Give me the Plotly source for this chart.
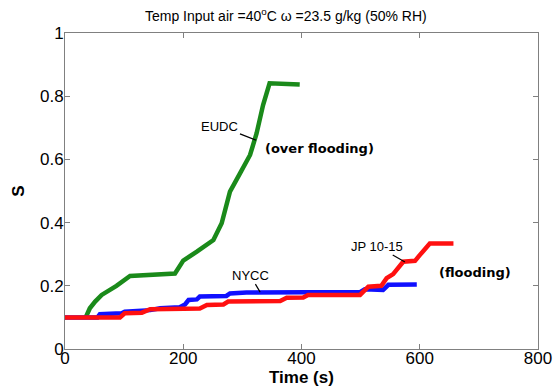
import plotly.graph_objects as go

eudc_t = [35, 42, 51, 62, 87, 110, 186, 200, 223, 251, 265, 279, 296, 313, 324, 335, 346, 397]
eudc_s = [0.10, 0.129, 0.15, 0.171, 0.20, 0.231, 0.239, 0.28, 0.308, 0.345, 0.398, 0.498, 0.556, 0.614, 0.682, 0.772, 0.841, 0.837]

nycc_t = [0, 55, 59, 96, 101, 144, 161, 194, 203, 209, 223, 228, 273, 279, 307, 397, 499, 507, 538, 547, 595]
nycc_s = [0.10, 0.10, 0.11, 0.113, 0.118, 0.123, 0.129, 0.132, 0.141, 0.155, 0.157, 0.166, 0.168, 0.176, 0.179, 0.179, 0.18, 0.189, 0.187, 0.203, 0.204]

jp_t = [0, 93, 101, 130, 144, 228, 240, 268, 276, 364, 375, 403, 411, 499, 513, 535, 544, 555, 572, 592, 600, 617, 657]
jp_s = [0.10, 0.10, 0.113, 0.115, 0.126, 0.128, 0.139, 0.141, 0.15, 0.152, 0.162, 0.163, 0.171, 0.171, 0.197, 0.20, 0.224, 0.237, 0.276, 0.279, 0.297, 0.334, 0.334]

x_ticks = [0, 200, 400, 600, 800]
y_ticks = [0, 0.2, 0.4, 0.6, 0.8, 1]
y_tick_text = ["0", "0.2", "0.4", "0.6", "0.8", "1"]

ARIAL = "Arial, Liberation Sans, sans-serif"
BOLD = "DejaVu Sans, Verdana, sans-serif"

fig = go.Figure()
fig.add_trace(go.Scatter(x=eudc_t, y=eudc_s, mode="lines", line=dict(color="#1a8a1a", width=4.5), showlegend=False))
fig.add_trace(go.Scatter(x=nycc_t, y=nycc_s, mode="lines", line=dict(color="#1010ff", width=4.5), showlegend=False))
fig.add_trace(go.Scatter(x=jp_t, y=jp_s, mode="lines", line=dict(color="#ff1010", width=4.5), showlegend=False))

ann_font = dict(family=ARIAL, size=13, color="black")
fig.add_annotation(x=323, y=0.661, text="EUDC", showarrow=True, arrowhead=0, arrowwidth=1.2,
                   arrowcolor="black", ax=-36, ay=-14, font=ann_font)
fig.add_annotation(x=330, y=0.18, text="NYCC", showarrow=True, arrowhead=0, arrowwidth=1.2,
                   arrowcolor="black", ax=-10, ay=-17, font=ann_font)
fig.add_annotation(x=575, y=0.275, text="JP 10-15", showarrow=True, arrowhead=0, arrowwidth=1.2,
                   arrowcolor="black", ax=-28, ay=-16, font=ann_font)
fig.add_annotation(x=431, y=0.633, text="<b>(over flooding)</b>", showarrow=False,
                   font=dict(family=BOLD, size=13, color="black"))
fig.add_annotation(x=694, y=0.241, text="<b>(flooding)</b>", showarrow=False,
                   font=dict(family=BOLD, size=13, color="black"))

# axis titles placed as annotations
fig.add_annotation(xref="paper", yref="paper", x=0.5, y=-0.09, yanchor="middle", xanchor="center",
                   text="<b>Time (s)</b>", showarrow=False, font=dict(family=ARIAL, size=17, color="black"))
fig.add_annotation(xref="paper", yref="paper", x=-0.1, y=0.5, yanchor="middle", xanchor="center",
                   text="<b>S</b>", showarrow=False, textangle=-90, font=dict(family=ARIAL, size=17, color="black"))

fig.update_layout(
    width=554, height=388,
    margin=dict(l=65, r=16, t=33, b=39),
    paper_bgcolor="white", plot_bgcolor="white",
    title=dict(text="Temp Input air =40<sup>o</sup>C ω =23.5 g/kg (50% RH)", x=0.516, xanchor="center",
               y=0.958, yanchor="middle",
               font=dict(family=ARIAL, size=14, color="black")),
    font=dict(family=ARIAL, color="black"),
)
fig.update_xaxes(range=[0, 800], tickvals=x_ticks, ticktext=[str(v) for v in x_ticks],
                 ticks="inside", ticklen=5, tickcolor="#808080", showline=True, linecolor="#808080",
                 linewidth=1, mirror="ticks", showgrid=False, zeroline=False, automargin=False,
                 tickfont=dict(size=17), ticklabelstandoff=-6)
fig.update_yaxes(range=[0, 1], tickvals=y_ticks, ticktext=y_tick_text,
                 ticks="inside", ticklen=5, tickcolor="#808080", showline=True, linecolor="#808080",
                 linewidth=1, mirror="ticks", showgrid=False, zeroline=False, automargin=False,
                 tickfont=dict(size=17), ticklabelstandoff=-3)

fig.write_html("out.html", config={"displayModeBar": False},
               post_script="document.body.style.margin='0px';document.body.style.padding='0px';")
